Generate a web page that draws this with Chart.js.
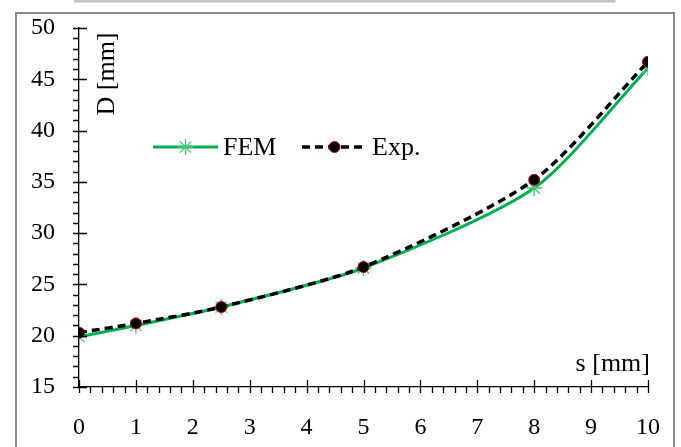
<!DOCTYPE html>
<html>
<head>
<meta charset="utf-8">
<script src="https://cdn.jsdelivr.net/npm/chart.js@4"></script>
<style>
  html,body{margin:0;padding:0;background:#fff;}
  #wrap{width:681px;height:447px;position:relative;}
</style>
</head>
<body>
<div id="wrap"><canvas id="c" width="681" height="447"></canvas></div>
<script>
const sValues = [0, 1, 2.5, 5, 8, 10];
const femValues = [19.9, 21.0, 22.8, 26.6, 34.4, 46.1];
const expValues = [20.3, 21.2, 22.8, 26.7, 35.2, 46.7];
const xTickLabels = ['0','1','2','3','4','5','6','7','8','9','10'];
const yTickLabels = ['15','20','25','30','35','40','45','50'];
const seriesNames = ['FEM', 'Exp.'];
const xTitle = 's [mm]';
const yTitle = 'D [mm]';

const SERIF = '"Liberation Serif", "DejaVu Serif", serif';
const GREEN = '#00b050';

const pts = (ys) => sValues.map((x, i) => ({x, y: ys[i]}));

const decor = {
  id: 'decor',
  beforeDraw(chart) {
    const ctx = chart.ctx;
    ctx.save();
    ctx.strokeStyle = '#c4c4c4';
    ctx.lineWidth = 3;
    ctx.beginPath(); ctx.moveTo(74, 1); ctx.lineTo(614, 1); ctx.lineTo(614, -2); ctx.stroke();
    ctx.strokeStyle = '#8a8a8a';
    ctx.lineWidth = 2;
    ctx.strokeRect(16, 13, 658, 460);
    ctx.restore();
  },
  afterDraw(chart) {
    const ctx = chart.ctx;
    const xs = chart.scales.x, ys = chart.scales.y;
    const ca = chart.chartArea;
    ctx.save();
    ctx.strokeStyle = '#000';
    ctx.lineWidth = 1.3;
    ctx.beginPath();
    const yAx = ca.left;
    for (let v = ys.min; v <= ys.max + 1e-9; v += 1) {
      const p = Math.round(ys.getPixelForValue(v)) + 0.5;
      const major = Math.abs(v % 5) < 1e-9;
      ctx.moveTo(yAx - 6, p);
      ctx.lineTo(major ? yAx + 8 : yAx, p);
    }
    const xAx = ca.bottom;
    for (let k = 0; k <= 50; k++) {
      const v = xs.min + k * 0.2;
      const p = Math.round(xs.getPixelForValue(v)) + 0.5;
      const major = k % 5 === 0;
      ctx.moveTo(p, xAx + 6);
      ctx.lineTo(p, major ? xAx - 7 : xAx);
    }
    ctx.stroke();

    ctx.fillStyle = '#000';
    ctx.font = '26px ' + SERIF;
    ctx.textBaseline = 'middle';
    ctx.save();
    ctx.translate(ca.left + 28, ca.top + 46);
    ctx.rotate(-Math.PI / 2);
    ctx.textAlign = 'center';
    ctx.fillText(yTitle, 0, 0);
    ctx.restore();
    ctx.textAlign = 'right';
    ctx.fillText(xTitle, ca.right + 2, ca.bottom - 23);

    const ly = ca.top + 119;
    const ds = chart.data.datasets;
    const items = [{x0: 153, x1: 218, tx: 223}, {x0: 302, x1: 367, tx: 372}];
    items.forEach((it, i) => {
      const d = ds[i];
      ctx.save();
      ctx.strokeStyle = d.borderColor;
      ctx.lineWidth = d.borderWidth;
      ctx.setLineDash(d.borderDash || []);
      ctx.beginPath(); ctx.moveTo(it.x0, ly); ctx.lineTo(it.x1, ly); ctx.stroke();
      ctx.restore();
      ctx.save();
      ctx.fillStyle = d.pointBackgroundColor;
      ctx.strokeStyle = d.pointBorderColor;
      ctx.lineWidth = d.pointBorderWidth;
      Chart.helpers.drawPoint(ctx, {
        pointStyle: d.pointStyle, radius: d.pointRadius, rotation: 0,
        borderWidth: d.pointBorderWidth
      }, (it.x0 + it.x1) / 2, ly);
      ctx.restore();
      ctx.fillStyle = '#000';
      ctx.font = '26px ' + SERIF;
      ctx.textAlign = 'left';
      ctx.textBaseline = 'middle';
      ctx.fillText(seriesNames[i], it.tx, ly + 1);
    });
    ctx.restore();
  }
};

new Chart(document.getElementById('c'), {
  type: 'line',
  data: {
    datasets: [
      {
        label: seriesNames[0],
        data: pts(femValues),
        borderColor: GREEN,
        borderWidth: 3,
        pointStyle: 'star',
        pointRadius: 8,
        pointBorderColor: '#40c878',
        pointBackgroundColor: '#40c878',
        pointBorderWidth: 1.3,
        tension: 0.25,
        fill: false,
        order: 1
      },
      {
        label: seriesNames[1],
        data: pts(expValues),
        borderColor: '#000',
        borderWidth: 3.5,
        borderDash: [8, 5],
        pointStyle: 'circle',
        pointRadius: 5.5,
        pointBorderColor: '#c00000',
        pointBackgroundColor: '#000',
        pointBorderWidth: 1,
        tension: 0.25,
        fill: false,
        order: 0
      }
    ]
  },
  options: {
    responsive: false,
    animation: false,
    events: [],
    layout: { padding: { top: 28, right: 33, left: 0, bottom: 0 } },
    plugins: { legend: { display: false }, tooltip: { enabled: false } },
    scales: {
      x: {
        type: 'linear', min: 0, max: 10,
        afterFit(s) { s.height = 60; s.paddingLeft = 0; s.paddingRight = 0; },
        grid: { display: false, drawTicks: false },
        border: { display: true, color: '#000', width: 1.3 },
        ticks: {
          stepSize: 1, padding: 26, color: '#000', maxRotation: 0,
          font: { family: SERIF, size: 24 },
          callback: (v) => xTickLabels[Math.round(v)]
        }
      },
      y: {
        type: 'linear', min: 15, max: 50,
        afterFit(s) { s.width = 79; s.paddingTop = 0; s.paddingBottom = 0; },
        grid: { display: false, drawTicks: false },
        border: { display: true, color: '#000', width: 1.3 },
        ticks: {
          stepSize: 5, padding: 24, color: '#000',
          font: { family: SERIF, size: 24 },
          callback: (v) => yTickLabels[Math.round((v - 15) / 5)]
        }
      }
    }
  },
  plugins: [decor]
});
</script>
</body>
</html>
